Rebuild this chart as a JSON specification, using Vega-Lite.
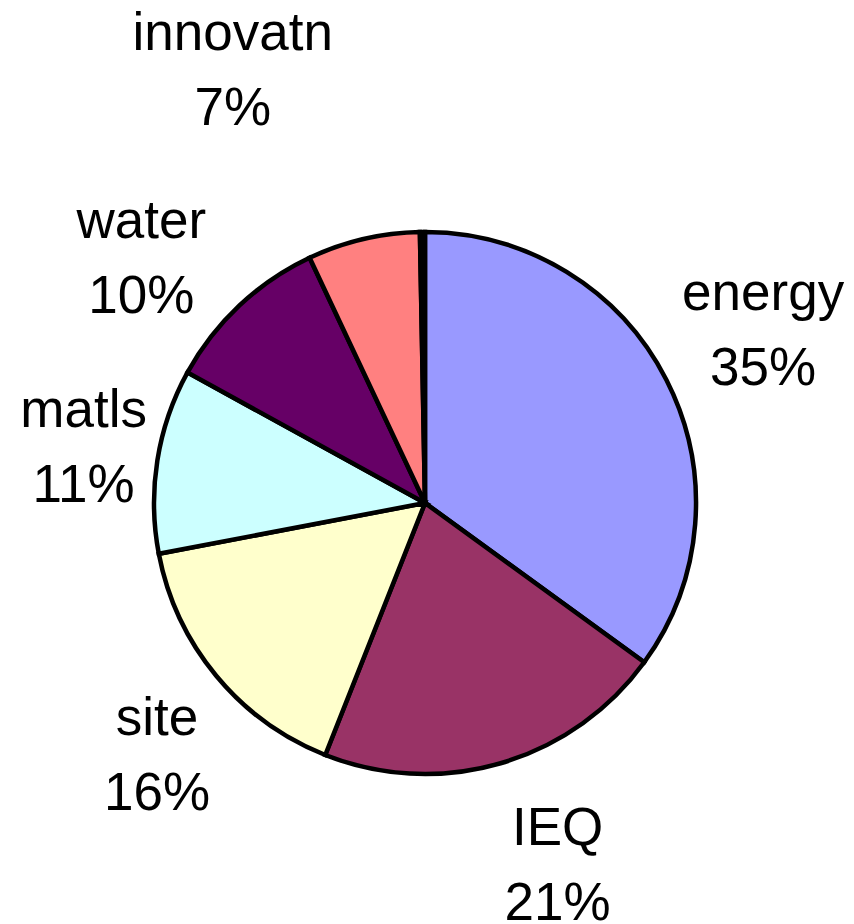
{
  "$schema": "https://vega.github.io/schema/vega-lite/v6.json",
  "width": 850,
  "height": 1006,
  "autosize": "none",
  "padding": 0,
  "background": "white",
  "config": {"view": {"stroke": null}},
  "data": {
    "values": [
      {"cat": "energy", "pct": 35, "label": "energy\n35%", "rank": 1},
      {"cat": "IEQ", "pct": 21, "label": "IEQ\n21%", "rank": 2},
      {"cat": "site", "pct": 16, "label": "site\n16%", "rank": 3},
      {"cat": "matls", "pct": 11, "label": "matls\n11%", "rank": 4},
      {"cat": "water", "pct": 10, "label": "water\n10%", "rank": 5},
      {"cat": "innovatn", "pct": 6.7, "label": "innovatn\n7%", "rank": 6},
      {"cat": "other", "pct": 0.3, "label": "", "rank": 7}
    ]
  },
  "encoding": {
    "theta": {"field": "pct", "type": "quantitative", "stack": true},
    "order": {"field": "rank", "type": "quantitative"}
  },
  "layer": [
    {
      "mark": {"type": "arc", "radius": 271, "stroke": "black", "strokeWidth": 4.5},
      "encoding": {
        "color": {
          "field": "cat",
          "type": "nominal",
          "scale": {
            "domain": ["energy", "IEQ", "site", "matls", "water", "innovatn", "other"],
            "range": ["#9999FF", "#993366", "#FFFFCC", "#CCFFFF", "#660066", "#FF8080", "#000000"]
          },
          "legend": null
        }
      }
    },
    {
      "mark": {"type": "text", "radius": 375, "font": "Liberation Sans", "fontSize": 53, "lineHeight": 75, "lineBreak": "\n", "align": "center", "baseline": "alphabetic", "fill": "black", "dx": 4, "dy": -23},
      "encoding": {
        "detail": {"field": "cat"},
        "text": {"condition": {"test": "datum.cat === 'energy'", "field": "label"}, "value": ""}
      }
    },
    {
      "mark": {"type": "text", "radius": 375, "font": "Liberation Sans", "fontSize": 53, "lineHeight": 75, "lineBreak": "\n", "align": "center", "baseline": "alphabetic", "fill": "black", "dx": 28, "dy": -18},
      "encoding": {
        "detail": {"field": "cat"},
        "text": {"condition": {"test": "datum.cat === 'IEQ'", "field": "label"}, "value": ""}
      }
    },
    {
      "mark": {"type": "text", "radius": 375, "font": "Liberation Sans", "fontSize": 53, "lineHeight": 75, "lineBreak": "\n", "align": "center", "baseline": "alphabetic", "fill": "black", "dx": 21, "dy": -7},
      "encoding": {
        "detail": {"field": "cat"},
        "text": {"condition": {"test": "datum.cat === 'site'", "field": "label"}, "value": ""}
      }
    },
    {
      "mark": {"type": "text", "radius": 375, "font": "Liberation Sans", "fontSize": 53, "lineHeight": 75, "lineBreak": "\n", "align": "center", "baseline": "alphabetic", "fill": "black", "dx": 29, "dy": -17},
      "encoding": {
        "detail": {"field": "cat"},
        "text": {"condition": {"test": "datum.cat === 'matls'", "field": "label"}, "value": ""}
      }
    },
    {
      "mark": {"type": "text", "radius": 375, "font": "Liberation Sans", "fontSize": 53, "lineHeight": 75, "lineBreak": "\n", "align": "center", "baseline": "alphabetic", "fill": "black", "dx": -27, "dy": 8},
      "encoding": {
        "detail": {"field": "cat"},
        "text": {"condition": {"test": "datum.cat === 'water'", "field": "label"}, "value": ""}
      }
    },
    {
      "mark": {"type": "text", "radius": 375, "font": "Liberation Sans", "fontSize": 53, "lineHeight": 75, "lineBreak": "\n", "align": "center", "baseline": "alphabetic", "fill": "black", "dx": -107, "dy": -88},
      "encoding": {
        "detail": {"field": "cat"},
        "text": {"condition": {"test": "datum.cat === 'innovatn'", "field": "label"}, "value": ""}
      }
    }
  ]
}
